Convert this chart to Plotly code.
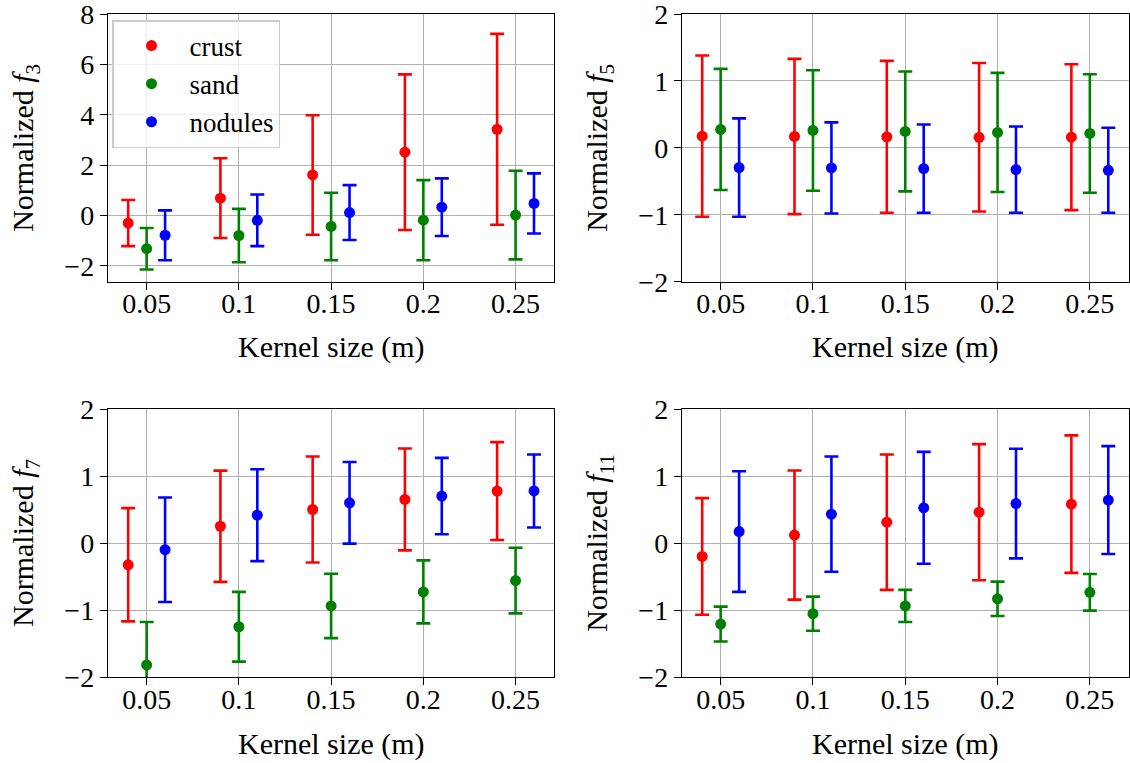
import plotly.graph_objects as go

kernel = [0.05, 0.1, 0.15, 0.2, 0.25]
tick_text = ["0.05", "0.1", "0.15", "0.2", "0.25"]
series = ["crust", "sand", "nodules"]
offsets = [-0.01, 0.0, 0.01]
colors = ["#ff0000", "#008000", "#0000ff"]
x_title = "Kernel size (m)"

# f3
f3_mean = {"crust": [-0.305, 0.685, 1.605, 2.51, 3.42],
           "sand": [-1.325, -0.80, -0.44, -0.19, 0.01],
           "nodules": [-0.79, -0.195, 0.11, 0.325, 0.475]}
f3_err = {"crust": [0.915, 1.585, 2.375, 3.09, 3.79],
          "sand": [0.825, 1.06, 1.34, 1.59, 1.76],
          "nodules": [0.99, 1.025, 1.09, 1.145, 1.195]}
# f5
f5_mean = {"crust": [0.175, 0.17, 0.165, 0.158, 0.16],
           "sand": [0.275, 0.26, 0.245, 0.23, 0.215],
           "nodules": [-0.295, -0.30, -0.31, -0.325, -0.335]}
f5_err = {"crust": [1.205, 1.16, 1.135, 1.11, 1.09],
          "sand": [0.905, 0.90, 0.895, 0.89, 0.885],
          "nodules": [0.735, 0.68, 0.66, 0.645, 0.635]}
# f7
f7_mean = {"crust": [-0.325, 0.25, 0.50, 0.65, 0.775],
           "sand": [-1.82, -1.25, -0.94, -0.73, -0.56],
           "nodules": [-0.10, 0.415, 0.60, 0.70, 0.777]}
f7_err = {"crust": [0.845, 0.83, 0.79, 0.76, 0.73],
          "sand": [0.64, 0.52, 0.48, 0.47, 0.49],
          "nodules": [0.78, 0.685, 0.61, 0.57, 0.545]}
# f11
f11_mean = {"crust": [-0.20, 0.118, 0.31, 0.46, 0.58],
            "sand": [-1.21, -1.055, -0.94, -0.833, -0.736],
            "nodules": [0.17, 0.43, 0.525, 0.588, 0.641]}
f11_err = {"crust": [0.87, 0.963, 1.01, 1.015, 1.026],
           "sand": [0.26, 0.255, 0.24, 0.257, 0.274],
           "nodules": [0.90, 0.86, 0.835, 0.818, 0.805]}

panels = [
    ("3", f3_mean, f3_err, [-2.635, 8], [-2, 0, 2, 4, 6, 8]),
    ("5", f5_mean, f5_err, [-2, 2], [-2, -1, 0, 1, 2]),
    ("7", f7_mean, f7_err, [-2, 2], [-2, -1, 0, 1, 2]),
    ("11", f11_mean, f11_err, [-2, 2], [-2, -1, 0, 1, 2]),
]

W, H = 1130, 763
xdom = [[107.9 / W, 554.3 / W], [681.9 / W, 1128.6 / W]]
ydom = [[1 - 281.7 / H, 1 - 14 / H], [1 - 677 / H, 1 - 409 / H]]
xtitle_y = [1 - 347 / H, 1 - 744 / H]

FONT = "Liberation Serif"
FS = 28
TFS = 30

fig = go.Figure()
annotations = []
layout = dict(
    width=W, height=H,
    margin=dict(l=0, r=0, t=0, b=0, autoexpand=False),
    paper_bgcolor="white", plot_bgcolor="white",
    font=dict(family=FONT, size=FS, color="black"),
    showlegend=True,
    legend=dict(x=112 / W, y=1 - 20 / H, xanchor="left", yanchor="top",
                bgcolor="rgba(255,255,255,0.8)", bordercolor="#cccccc", borderwidth=1.5,
                font=dict(family=FONT, size=27), itemwidth=66,
                tracegroupgap=0),
)

for i, (sub, means, errs, yr, yt) in enumerate(panels):
    r, c = divmod(i, 2)
    ax = "" if i == 0 else str(i + 1)
    xa, ya = "x" + ax, "y" + ax
    for s, off, col in zip(series, offsets, colors):
        fig.add_trace(go.Scatter(
            x=[k + off for k in kernel], y=means[s],
            mode="markers", name=s, xaxis=xa, yaxis=ya,
            showlegend=(i == 0),
            marker=dict(color=col, size=11, symbol="circle"),
            error_y=dict(type="data", array=errs[s], visible=True,
                         color=col, thickness=2.6, width=7),
        ))
    common = dict(showline=True, linecolor="black", linewidth=1.3, mirror=True,
                  ticks="outside", ticklen=7, tickwidth=1.3, tickcolor="black",
                  showgrid=True, gridcolor="#b0b0b0", gridwidth=1.3, zeroline=False,
                  automargin=False, ticklabeloverflow="allow",
                  tickfont=dict(family=FONT, size=FS))
    layout["xaxis" + ax] = dict(common, domain=xdom[c], range=[0.029, 0.271],
                                tickvals=kernel, ticktext=tick_text,
                                anchor=ya, ticklabelstandoff=-10)
    annotations.append(dict(text=x_title, xref="paper", yref="paper",
                            x=(xdom[c][0] + xdom[c][1]) / 2, y=xtitle_y[r],
                            xanchor="center", yanchor="middle", showarrow=False,
                            font=dict(family=FONT, size=TFS, color="black")))
    layout["yaxis" + ax] = dict(common, domain=ydom[r], range=yr, tickvals=yt,
                                anchor=xa,
                                title=dict(text="Normalized <i>f</i><sub>" + sub + "</sub>",
                                           standoff=21, font=dict(family=FONT, size=TFS)))

layout["annotations"] = annotations
fig.update_layout(**layout)
fig.write_html("out.html")
